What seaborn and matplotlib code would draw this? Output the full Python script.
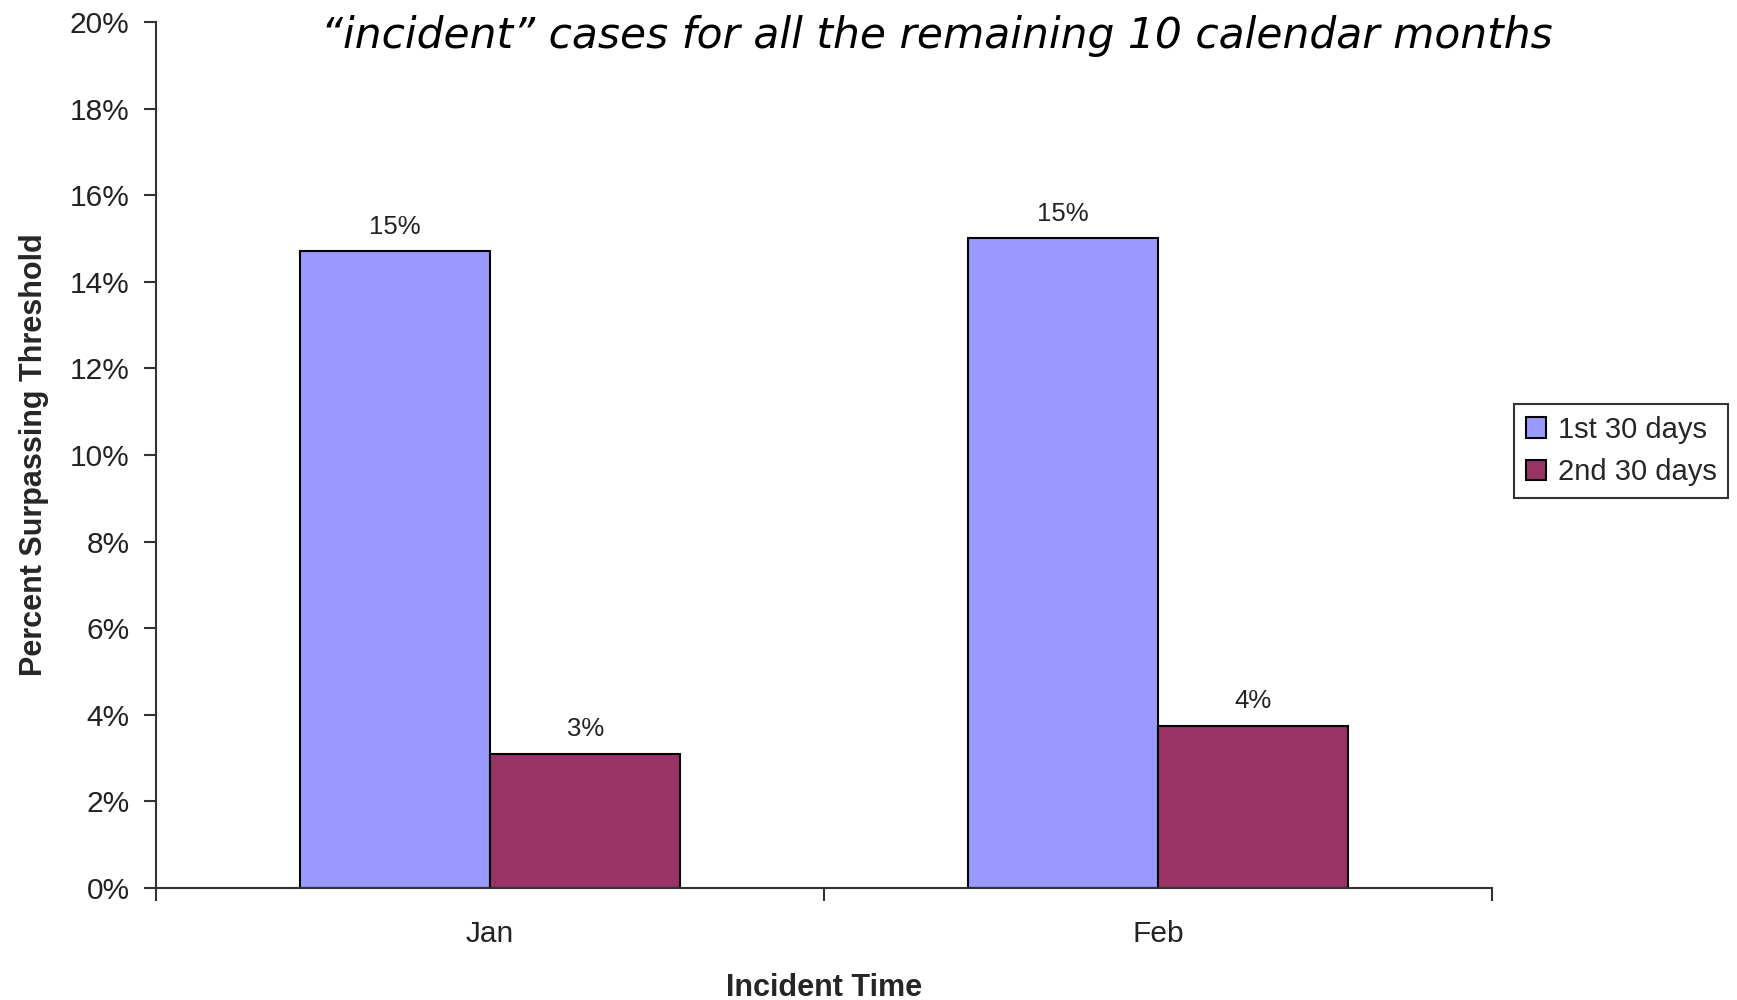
import matplotlib
matplotlib.use("Agg")
import matplotlib.pyplot as plt
import seaborn as sns
import pandas as pd
from matplotlib.ticker import FixedLocator, PercentFormatter

months = ["Jan", "Feb"]
series = ["1st 30 days", "2nd 30 days"]
first_30 = [14.7, 15.0]
second_30 = [3.1, 3.75]
bar_labels_first = ["15%", "15%"]
bar_labels_second = ["3%", "4%"]
title_text = "\u201cincident\u201d cases for all the remaining 10 calendar months"

df = pd.DataFrame({
    "Incident Time": months * 2,
    "Series": [series[0]] * 2 + [series[1]] * 2,
    "Percent": first_30 + second_30,
})

sns.set_theme(style="white")
plt.rcParams["font.family"] = ["Liberation Sans", "DejaVu Sans"]

fig = plt.figure(figsize=(17.37, 10.0), dpi=100)
ax = fig.add_axes([0.0898, 0.112, 0.859 - 0.0898, 0.978 - 0.112])

sns.barplot(data=df, x="Incident Time", y="Percent", hue="Series",
            order=months, hue_order=series,
            palette=["#9999FF", "#993366"], width=0.57,
            edgecolor="black", linewidth=1.5, saturation=1, ax=ax)

labels_all = [bar_labels_first, bar_labels_second]
for cont, labs in zip(ax.containers, labels_all):
    ax.bar_label(cont, labels=labs, padding=9, fontsize=18.5, color="#222222")

ax.set_xlim(-0.5, 1.5)
ax.set_ylim(0, 20)
ax.yaxis.set_major_locator(FixedLocator(list(range(0, 21, 2))))
ax.yaxis.set_major_formatter(PercentFormatter(decimals=0))
ax.set_xticks([0, 1])
ax.set_xticklabels(months)
ax.xaxis.set_minor_locator(FixedLocator([-0.5, 0.5, 1.5]))
ax.tick_params(axis="x", which="major", length=0, pad=23, labelsize=21.5, colors="#222222")
ax.tick_params(axis="x", which="minor", length=9, width=1.5, direction="out", bottom=True, color="#333333")
ax.tick_params(axis="y", which="major", length=9, width=1.5, direction="out", left=True,
               labelsize=21.5, pad=10, colors="#333333")
for lab in ax.get_yticklabels():
    lab.set_color("#222222")

for s in ["top", "right"]:
    ax.spines[s].set_visible(False)
for s in ["left", "bottom"]:
    ax.spines[s].set_color("#333333")
    ax.spines[s].set_linewidth(1.5)

ax.set_xlabel("Incident Time", fontsize=22, fontweight="bold", labelpad=18)
ax.set_ylabel("Percent Surpassing Threshold", fontsize=22, fontweight="bold", labelpad=15)

leg = ax.legend(loc="center left", bbox_to_anchor=(1514 / 1737, 1 - 451 / 1000),
                bbox_transform=fig.transFigure, fontsize=21, frameon=True,
                fancybox=False, edgecolor="black", handlelength=0.7, handleheight=0.7,
                handletextpad=0.4, borderpad=0.4, labelspacing=0.5, borderaxespad=0)
leg.get_frame().set_linewidth(1.5)
for h in leg.legend_handles:
    h.set_edgecolor("black")
    h.set_linewidth(1.5)

fig.text(937 / 1737, 1 - 36 / 1000, title_text, ha="center", va="center",
         fontsize=30.5, style="italic", family="DejaVu Sans", color="black")

fig.savefig("out.png", dpi=100)
